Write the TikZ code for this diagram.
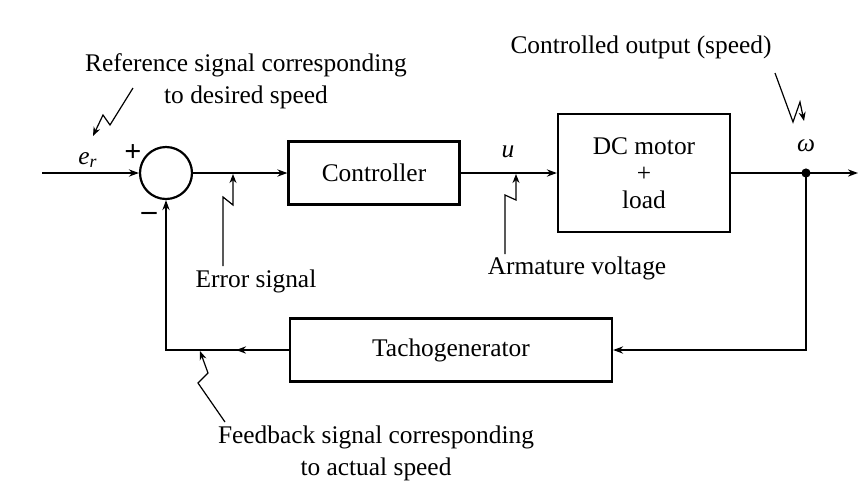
\documentclass[tikz,border=0pt]{standalone}
\usepackage{fontspec}
\setmainfont{Liberation Serif}
\usetikzlibrary{arrows.meta}

\begin{document}
\begin{tikzpicture}[x=0.5pt,y=-0.5pt,font=\fontsize{12.7}{16}\selectfont,
  blk/.style={draw,line width=1.1pt,align=center,inner sep=0pt},
  sumnode/.style={draw,line width=1.1pt,circle,minimum size=26pt,inner sep=0pt},
  conn/.style={line width=1.1pt,-{Stealth[length=5pt,width=3.6pt]}},
  sgn/.style={font=\fontsize{15}{16}\bfseries},
  pointer/.style={line width=0.6pt,-{Stealth[length=4.5pt,width=3.5pt]}}]
\fill[white] (0,0) rectangle (863,495);
\useasboundingbox (0,0) rectangle (863,495);
% blocks of the loop
\node[sumnode] (sum) at (166,173) {};
\node[blk,minimum width=85.5pt,minimum height=31.5pt] (ctrl) at (374,173) {Controller};
\node[blk,minimum width=86pt,minimum height=59pt,font=\fontsize{12.7}{13.5}\selectfont] (motor) at (644,173) {DC motor\\+\\load};
\node[blk,minimum width=161pt,minimum height=31.5pt] (tacho) at (451,350) {Tachogenerator};
\coordinate (in) at (42,173);
\coordinate (tap) at (806,173);
\coordinate (out) at (858,173);
\coordinate (fbmid) at (236,350);
% signal paths
\draw[conn] (in) -- (sum.west);
\draw[conn] (sum.east) -- (ctrl.west);
\draw[conn] (ctrl.east) -- (motor.west);
\draw[conn] (motor.east) -- (out);
\fill (tap) circle (2.3pt);
\draw[conn] (tap) |- (tacho.east);
\draw[conn] (tacho.west) -| (sum.south);
\draw[conn] (tacho.west) -- (fbmid);
% signal names
\node (er) at (88,160) {\textit{e}\textsubscript{\textit{r}}};
\node[sgn] (plus) at (133,153) {+};
\node[sgn] (minus) at (149,216) {--};
\node (u) at (508,152) {\textit{u}};
\node (w) at (806,146) {\textit{ω}};
% annotations
\node[align=center] (reftxt) at (246,81) {Reference signal corresponding\\to desired speed};
\node (outtxt) at (641,47) {Controlled output (speed)};
\node (errtxt) at (256,281) {Error signal};
\node (armtxt) at (577,268) {Armature voltage};
\node[align=center] (fbtxt) at (376,453) {Feedback signal corresponding\\to actual speed};
\draw[pointer] (133,88) -- (110,125) -- (103,115) -- (93,136);
\draw[pointer] (775,73) -- (793,122) -- (800,102) -- (804,121);
\draw[pointer] (223,266) -- (223,197) -- (233,205) -- (233,174);
\draw[pointer] (505,254) -- (505,195) -- (516,200) -- (516,174);
\draw[pointer] (225,422) -- (198,383) -- (208,373) -- (200,351);
\end{tikzpicture}
\end{document}
